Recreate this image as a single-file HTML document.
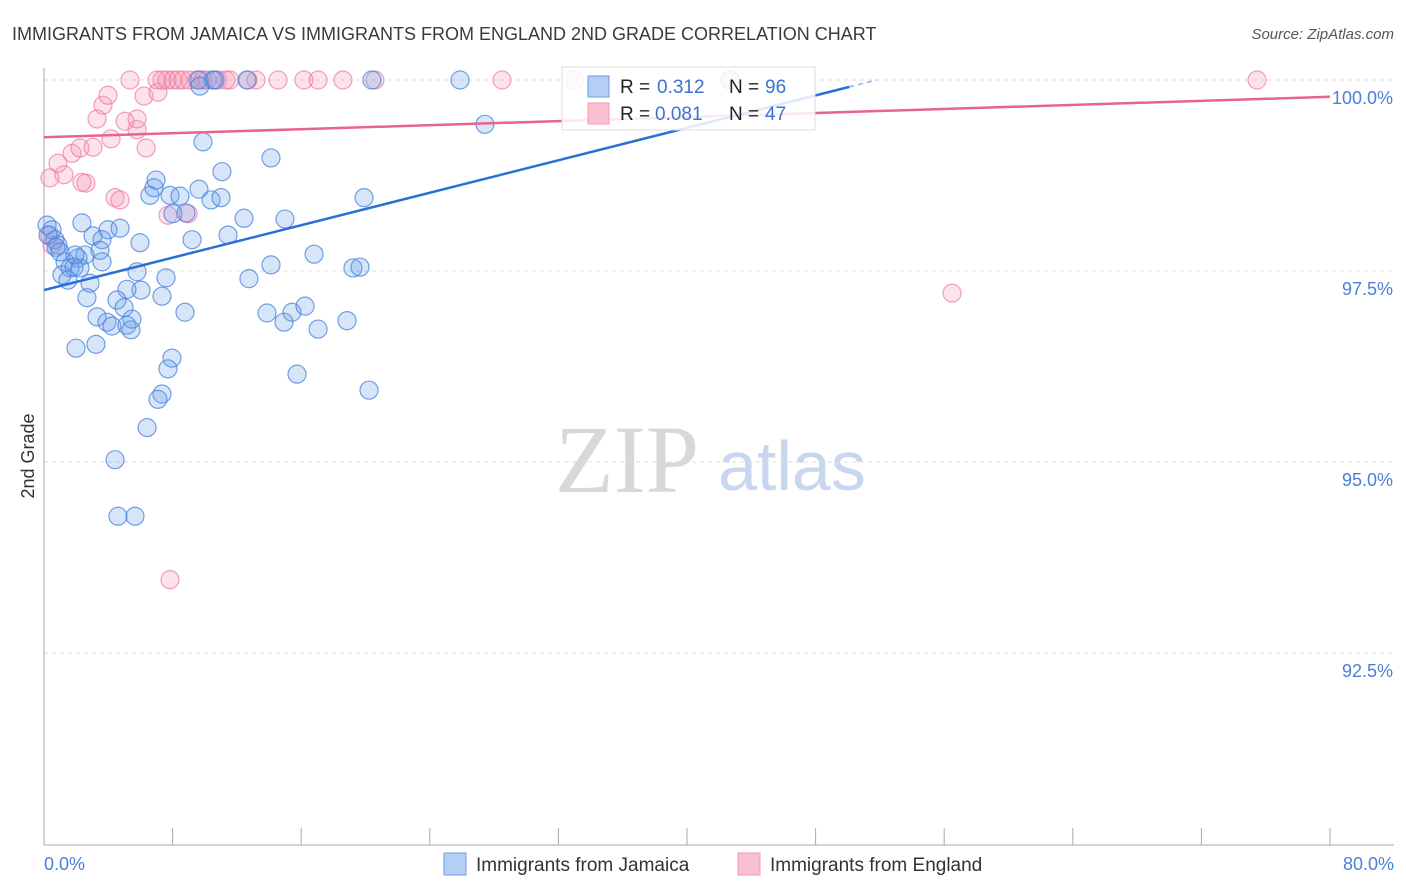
<!DOCTYPE html>
<html><head><meta charset="utf-8"><style>
body{margin:0;background:#fff;font-family:"Liberation Sans",sans-serif}
svg{display:block}
</style></head><body>
<svg id="chart" width="1406" height="892" xmlns="http://www.w3.org/2000/svg">
<text x="12" y="40" font-size="18" fill="#3a3a3a">IMMIGRANTS FROM JAMAICA VS IMMIGRANTS FROM ENGLAND 2ND GRADE CORRELATION CHART</text>
<text x="1394" y="39" font-size="15" font-style="italic" fill="#555" text-anchor="end">Source: ZipAtlas.com</text>
<g>
<text x="555" y="492" font-family="Liberation Serif" font-size="96" fill="#d8d8d8">ZIP</text>
<text x="718" y="490" font-size="70" fill="#c7d8ee">atlas</text>
</g>
<g id="grid"></g>
<g id="axes"></g>
<g id="marks"></g>
<text transform="translate(34,456) rotate(-90)" font-size="18" fill="#333" text-anchor="middle">2nd Grade</text>
<text x="44" y="870" font-size="18" fill="#4a7fd8">0.0%</text>
<text x="1394" y="870" font-size="18" fill="#4a7fd8" text-anchor="end">80.0%</text>
<g>
<rect x="562" y="67" width="253" height="63" fill="#fff" fill-opacity="0.85" stroke="#ddd"/>
<rect x="588" y="76" width="21" height="21" fill="#b3cff5" stroke="#6d9be0"/>
<rect x="588" y="103" width="21" height="21" fill="#f9c0d2" stroke="#f09ab6"/>
<text x="620" y="93" font-size="19" fill="#222">R = </text><text x="657" y="93" font-size="19" fill="#3a72d4">0.312</text>
<text x="729" y="93" font-size="19" fill="#222">N = </text><text x="765" y="93" font-size="19" fill="#3a72d4">96</text>
<text x="620" y="120" font-size="19" fill="#222">R = </text><text x="655" y="120" font-size="19" fill="#3a72d4">0.081</text>
<text x="729" y="120" font-size="19" fill="#222">N = </text><text x="765" y="120" font-size="19" fill="#3a72d4">47</text>
</g>
<g>
<rect x="444" y="853" width="22" height="22" fill="#b3cff5" stroke="#6d9be0"/>
<text x="476" y="871" font-size="19" fill="#333">Immigrants from Jamaica</text>
<rect x="738" y="853" width="22" height="22" fill="#f9c0d2" stroke="#f09ab6"/>
<text x="770" y="871" font-size="19" fill="#333">Immigrants from England</text>
</g>
</svg>
<script>
const yTicks=[92.5,95,97.5,100];
const yTickLabels=["92.5%","95.0%","97.5%","100.0%"];
const xTicks=[0,8,16,24,32,40,48,56,64,72,80];
const blueX=[0.19,0.5,0.68,0.87,0.25,2.36,3.05,3.98,4.73,5.97,3.61,3.48,2.12,2.55,1.31,1.62,1.12,1.49,1.87,2.86,2.67,3.61,2.24,5.79,7.59,6.03,5.16,4.54,7.34,8.77,4.98,3.3,3.92,4.23,5.16,5.41,5.47,1.99,3.23,7.96,7.71,7.34,7.09,6.41,4.42,4.6,5.66,6.59,6.84,6.97,7.84,8.02,8.46,8.83,9.64,9.21,10.39,11.01,11.07,9.89,12.44,11.45,12.75,14.12,13.87,14.99,14.93,15.43,16.24,16.8,17.05,15.74,18.85,19.22,19.66,20.22,19.91,14.12,27.43,25.88,20.4,12.63,10.51,9.64,9.7,10.64,42.68,0.75,1.0,1.93];
const blueY=[98.1,98.04,97.91,97.84,97.97,98.13,97.96,98.04,98.06,97.87,97.91,97.77,97.67,97.71,97.62,97.54,97.45,97.38,97.55,97.34,97.15,97.62,97.54,97.49,97.41,97.25,97.26,97.12,97.17,96.96,97.02,96.9,96.83,96.78,96.79,96.73,96.87,96.49,96.54,96.36,96.22,95.89,95.82,95.45,95.03,94.29,94.29,98.49,98.59,98.69,98.49,98.25,98.48,98.26,98.57,97.91,98.43,98.46,98.8,99.19,98.19,97.97,97.4,97.58,96.95,98.18,96.83,96.96,97.04,97.72,96.74,96.15,96.85,97.54,97.55,95.94,98.46,98.98,99.42,100,100,100,100,100,99.92,100,100,97.81,97.75,97.71];
const pinkX=[0.37,0.87,1.24,1.74,2.24,3.05,3.67,3.98,3.3,5.04,5.79,5.79,4.17,2.61,2.36,4.42,4.73,6.35,6.22,7.09,8.96,7.71,5.35,7.03,7.34,7.65,8.02,8.34,8.65,9.08,9.52,9.89,10.14,10.82,11.32,11.57,12.69,13.19,14.56,16.17,17.05,18.6,20.59,28.49,33.03,75.46,56.49,7.84,0.37,0.5];
const pinkY=[98.72,98.91,98.76,99.04,99.11,99.12,99.67,99.8,99.49,99.46,99.35,99.49,99.23,98.65,98.66,98.46,98.43,99.11,99.79,99.84,98.25,98.23,100,100,100,100,100,100,100,100,100,100,100,100,100,100,100,100,100,100,100,100,100,100,100,100,97.21,93.46,97.97,97.84];
const blueTrendX=[0,50.1],blueTrendY=[97.25,99.91];
const blueDashX=[50.1,51.8],blueDashY=[99.91,100.0];
const pinkTrendX=[0,80],pinkTrendY=[99.25,99.78];

const X0=44,X1=1330,Y0=80,PXPER=76.4;
const sx=v=>X0+(v/80)*(X1-X0);
const sy=v=>Y0+(100-v)*PXPER;
const NS="http://www.w3.org/2000/svg";
function mk(tag,parent,attrs){const e=document.createElementNS(NS,tag);for(const k in attrs)e.setAttribute(k,attrs[k]);parent.appendChild(e);return e;}
const grid=document.getElementById('grid'),axes=document.getElementById('axes'),marks=document.getElementById('marks');
yTicks.forEach((t,i)=>{
 const l=mk('line',grid,{x1:X0,x2:1394,y1:sy(t),y2:sy(t),stroke:'#ddd','stroke-dasharray':'4,4'});
 
 
 const tx=mk('text',grid,{x:1393,y:sy(t)+24,'font-size':18,fill:'#4a7fd8','text-anchor':'end'});
 tx.textContent=yTickLabels[i];
 
 
});
const ya=mk('line',axes,{x1:X0,x2:X0,y1:68,y2:845,stroke:'#aaa'});


const xa=mk('line',axes,{x1:X0,x2:1394,y1:845,y2:845,stroke:'#aaa'});


xTicks.forEach(t=>{
 const l=mk('line',axes,{x1:sx(t),x2:sx(t),y1:828,y2:845,stroke:'#aaa'});
 
 
});
pinkX.forEach((x,i)=>{
 const c=mk('circle',marks,{cx:sx(x),cy:sy(pinkY[i]),r:9,fill:'rgba(244,150,180,0.28)',stroke:'rgba(236,120,160,0.7)','stroke-width':1.2});
 
 
});
blueX.forEach((x,i)=>{
 const c=mk('circle',marks,{cx:sx(x),cy:sy(blueY[i]),r:9,fill:'rgba(110,160,235,0.28)',stroke:'rgba(70,130,220,0.75)','stroke-width':1.2});
 
 
});
const pt=mk('line',marks,{x1:sx(pinkTrendX[0]),y1:sy(pinkTrendY[0]),x2:sx(pinkTrendX[1]),y2:sy(pinkTrendY[1]),stroke:'#e8648e','stroke-width':2.5});


const bt=mk('line',marks,{x1:sx(blueTrendX[0]),y1:sy(blueTrendY[0]),x2:sx(blueTrendX[1]),y2:sy(blueTrendY[1]),stroke:'#2a6fd6','stroke-width':2.5});


const bd=mk('line',marks,{x1:sx(blueDashX[0]),y1:sy(blueDashY[0]),x2:sx(blueDashX[1]),y2:sy(blueDashY[1]),stroke:'#8fb3ea','stroke-width':1.5,'stroke-dasharray':'5,4'});


</script>
</body></html>
